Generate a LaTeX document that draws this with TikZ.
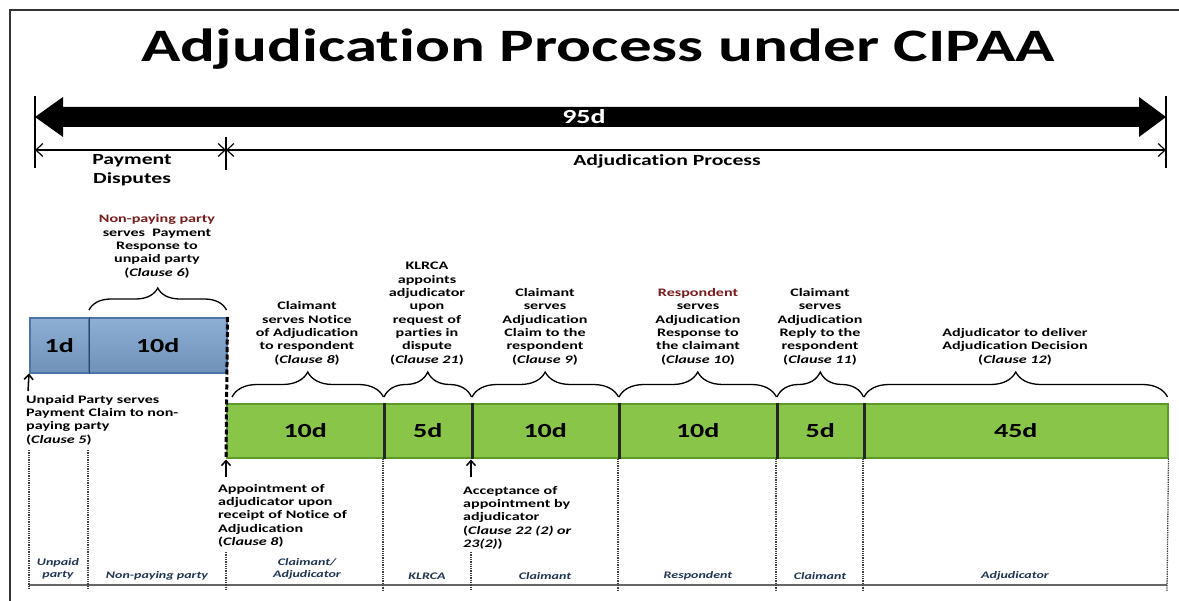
\documentclass[tikz,border=0pt]{standalone}
\usepackage{fontspec}
\setmainfont{Carlito}[FakeStretch=1.4, Ligatures={NoCommon}]
\usetikzlibrary{arrows.meta,decorations.pathreplacing}
\definecolor{gfill}{HTML}{92D050}
\definecolor{gedge}{HTML}{5E9A28}
\definecolor{bfill}{HTML}{7BA1CD}
\definecolor{bedge}{HTML}{4D74A8}
\definecolor{dred}{HTML}{7A1A1A}
\definecolor{navy}{HTML}{1F3552}
\begin{document}
\begin{tikzpicture}[x=1bp,y=-1bp,
  lbl/.style={font=\fontsize{11.5bp}{13.3bp}\selectfont\bfseries, align=center, inner sep=0pt},
  lbll/.style={font=\fontsize{11.5bp}{13.3bp}\selectfont\bfseries, align=left, inner sep=0pt},
  who/.style={font=\fontsize{10bp}{12.5bp}\selectfont\bfseries\itshape, text=navy, align=center, inner sep=0pt},
  bbox/.style={draw=bedge, top color=bfill!85!white, bottom color=bfill!90!black, line width=1.5bp, inner sep=0pt, anchor=north west,
    minimum height=55bp, font=\fontsize{20bp}{20bp}\selectfont\bfseries},
  gbox/.style={draw=gedge, top color=gfill!80!gedge, middle color=gfill, bottom color=gfill!80!gedge, line width=1.5bp, inner sep=0pt, anchor=north west,
    minimum height=54bp, font=\fontsize{20bp}{20bp}\selectfont\bfseries},
  brc/.style={decorate, decoration={brace, amplitude=#1}, line width=1.3bp},
  dimarr/.style={{Straight Barb[length=7bp,width=13bp]}-{Straight Barb[length=7bp,width=13bp]}, line width=1.2bp},
  uparr/.style={-{Straight Barb[length=5bp,width=9bp]}, line width=1.5bp},
  dotl/.style={line width=1.3bp, dash pattern=on 1.3bp off 1bp, black!75},
  bar/.style={line width=2bp}
]
\useasboundingbox (0,0) rectangle (1179,601);
\fill[white] (0,0) rectangle (1179,601);
% frame
\draw[line width=1.2bp, black!80] (10,601) -- (10,10) -- (1179,10);

% title
\node[font=\fontsize{46.5bp}{50bp}\selectfont\bfseries, anchor=base, inner sep=0pt] (title) at (598,62) {Adjudication Process under CIPAA};

% big arrow
\coordinate (AL) at (35,117);
\coordinate (AR) at (1166,117);
\fill (AL) -- (63,97) -- (63,107) -- (1139,107) -- (1139,97) -- (AR) -- (1139,137) -- (1139,127) -- (63,127) -- (63,137) -- cycle;
\node[text=white, font=\fontsize{20bp}{20bp}\selectfont\bfseries, inner sep=0pt] (n95) at (584,117) {95d};
\coordinate (BL1) at (35,96);  \coordinate (BL2) at (35,168);
\coordinate (BR1) at (1166,96); \coordinate (BR2) at (1166,168);
\coordinate (BM1) at (226,137); \coordinate (BM2) at (226,170);
\draw[bar] (BL1) -- (BL2);
\draw[bar] (BR1) -- (BR2);
\draw[bar] (BM1) -- (BM2);
\coordinate (DL) at (35,150);
\coordinate (DM) at (226,150);
\coordinate (DR) at (1166,150);
\draw[dimarr] (DL) -- (DM);
\draw[dimarr] (DM) -- (DR);
\node[font=\fontsize{15.5bp}{19bp}\selectfont\bfseries, align=center, inner sep=0pt] (pd) at (132,170) {Payment\\Disputes};
\node[font=\fontsize{15.5bp}{19bp}\selectfont\bfseries, inner sep=0pt] (ap) at (667,161) {Adjudication Process};

% blue boxes
\node[bbox, minimum width=59bp] (b1) at (29,317) {1d};
\node[bbox, minimum width=138bp] (b2) at (88,317) {10d};

% green boxes
\node[gbox, minimum width=157bp] (g1) at (226,403) {10d};
\node[gbox, minimum width=88bp] (g2) at (383,403) {5d};
\node[gbox, minimum width=147bp] (g3) at (471,403) {10d};
\node[gbox, minimum width=158bp] (g4) at (618,403) {10d};
\node[gbox, minimum width=87bp] (g5) at (776,403) {5d};
\node[gbox, minimum width=304bp] (g6) at (863,403) {45d};
\foreach \g in {g1,g2,g3,g4,g5}
  \draw[line width=2.2bp, black!85] (\g.north east) -- (\g.south east);
\draw[line width=1.5bp, bedge!60!black] (b1.north east) -- (b1.south east);

% dashed divider
\draw[line width=3bp, dash pattern=on 5bp off 2.5bp] (b2.north east) -- (g1.south west);

% braces
\draw[brc=22bp] ([xshift=1bp,yshift=7bp]b2.north west) -- ([xshift=-1bp,yshift=7bp]b2.north east);
\draw[brc=25bp] ([xshift=6bp,yshift=6bp]g1.north west) -- ([xshift=-1bp,yshift=6bp]g1.north east);
\draw[brc=25bp] ([xshift=1bp,yshift=6bp]g2.north west) -- ([xshift=-1bp,yshift=6bp]g2.north east);
\draw[brc=25bp] ([xshift=1bp,yshift=6bp]g3.north west) -- ([xshift=-1bp,yshift=6bp]g3.north east);
\draw[brc=25bp] ([xshift=1bp,yshift=6bp]g4.north west) -- ([xshift=-1bp,yshift=6bp]g4.north east);
\draw[brc=25bp] ([xshift=1bp,yshift=6bp]g5.north west) -- ([xshift=-1bp,yshift=6bp]g5.north east);
\draw[brc=25bp] ([xshift=1bp,yshift=6bp]g6.north west) -- ([xshift=-1bp,yshift=6bp]g6.north east);

% labels above
\node[lbl, anchor=south] (t6) at (157,278) {\textcolor{dred}{Non-paying party}\\serves\ \ Payment\\Response to\\unpaid party\\(\textit{Clause 6})};
\node[lbl, anchor=south] (t8) at (307,365) {Claimant\\serves Notice\\of Adjudication\\to respondent\\(\textit{Clause 8})};
\node[lbl, anchor=south] (t21) at (427,365) {KLRCA\\appoints\\adjudicator\\upon\\request of\\parties in\\dispute\\(\textit{Clause 21})};
\node[lbl, anchor=south] (t9) at (545,365) {Claimant\\serves\\Adjudication\\Claim to the\\respondent\\(\textit{Clause 9})};
\node[lbl, anchor=south] (t10) at (698,365) {\textcolor{dred}{Respondent}\\serves\\Adjudication\\Response to\\the claimant\\(\textit{Clause 10})};
\node[lbl, anchor=south] (t11) at (820,365) {Claimant\\serves\\Adjudication\\Reply to the\\respondent\\(\textit{Clause 11})};
\node[lbl, anchor=south] (t12) at (1015,365) {Adjudicator to deliver\\Adjudication Decision\\(\textit{Clause 12})};

% up arrows and labels below
\coordinate (ua1) at (28,391);
\draw[uparr] (ua1) -- (b1.south west);
\node[lbll, anchor=north west] (t5) at (26,395) {Unpaid Party serves\\Payment Claim to non-\\paying party\\(\textit{Clause 5})};
\coordinate (ua2) at (226,477);
\draw[uparr] (ua2) -- ([yshift=-1bp]g1.south west);
\node[lbll, anchor=north west] (t8b) at (218,484) {Appointment of\\adjudicator upon\\receipt of Notice of\\Adjudication\\(\textit{Clause 8})};
\coordinate (ua3) at (471,477);
\draw[uparr] (ua3) -- ([yshift=-1bp]g3.south west);
\node[lbll, anchor=north west] (t22) at (463,486) {Acceptance of\\appointment by\\adjudicator\\(\textit{Clause 22 (2) or}\\\textit{23(2)})};

% bottom grid
\coordinate (bl) at (29,585);
\coordinate (br) at (1167,585);
\draw[line width=1.2bp, black!60] (bl) -- (br);
\draw[dotl] (29,450) -- (29,590);
\draw[dotl] (88,450) -- (88,590);
\draw[dotl] (226,552) -- (226,590);
\draw[dotl] (g2.south west) -- (383,591);
\draw[dotl] (471,552) -- (471,591);
\draw[dotl] (g4.south west) -- (618,591);
\draw[dotl] (g5.south west) -- (776,591);
\draw[dotl] (g6.south west) -- (863,591);
\draw[dotl] (g6.south east) -- (1167,591);

\node[who] (w1) at (58,569) {Unpaid\\party};
\node[who] (w2) at (157,576) {Non-paying party};
\node[who] (w3) at (307,569) {Claimant/\\Adjudicator};
\node[who] (w4) at (427,576) {KLRCA};
\node[who] (w5) at (545,576) {Claimant};
\node[who] (w6) at (698,576) {Respondent};
\node[who] (w7) at (820,576) {Claimant};
\node[who] (w8) at (1015,576) {Adjudicator};
\end{tikzpicture}
\end{document}
